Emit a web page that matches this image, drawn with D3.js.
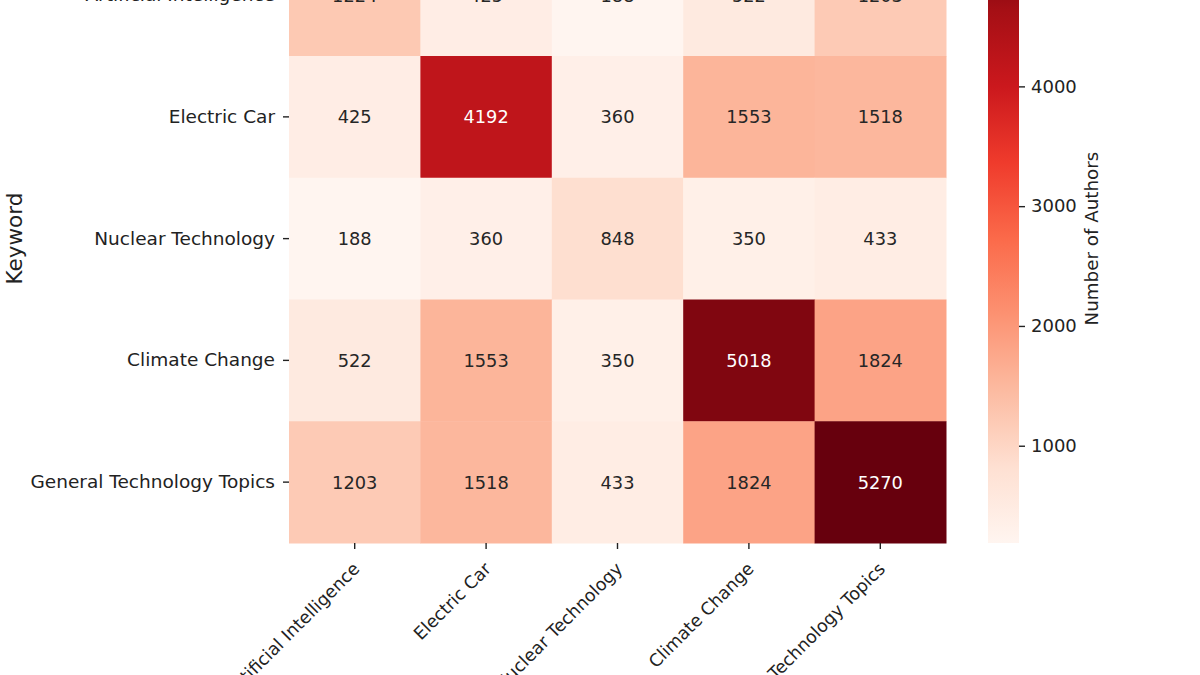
<!DOCTYPE html>
<html>
<head>
<meta charset="utf-8">
<script src="https://cdn.jsdelivr.net/npm/d3@7"></script>
<style>
  body { margin: 0; background: #fff; }
  svg { display: block; font-family: "DejaVu Sans", sans-serif; }
  .axis text { fill: #222; font-size: 18.5px; font-family: "DejaVu Sans", sans-serif; }
  .x.axis text { font-size: 17.5px; }
  .c.axis text { font-size: 18px; }
  .axis line { stroke: #222; stroke-width: 1.4; }
  .axis .domain { display: none; }
</style>
</head>
<body>
<div id="root"></div>
<script>
// keywords on both axes (the matrix is symmetric)
var keywords = ["Artificial Intelligence", "Electric Car", "Nuclear Technology", "Climate Change", "General Technology Topics"];

// number of authors, one row per keyword
var aiRow      = [1224, 425, 188, 522, 1203];
var carRow     = [425, 4192, 360, 1553, 1518];
var nuclearRow = [188, 360, 848, 350, 433];
var climateRow = [522, 1553, 350, 5018, 1824];
var generalRow = [1203, 1518, 433, 1824, 5270];
var authorRows = [aiRow, carRow, nuclearRow, climateRow, generalRow];

var colorbarTicks = [1000, 2000, 3000, 4000];

function luminance(c) {
  // relative luminance, used to pick dark or white annotation text
  var rgb = d3.rgb(c);
  var ch = [rgb.r, rgb.g, rgb.b].map(function (v) {
    v = v / 255;
    return v <= 0.03928 ? v / 12.92 : Math.pow((v + 0.055) / 1.055, 2.4);
  });
  return 0.2126 * ch[0] + 0.7152 * ch[1] + 0.0722 * ch[2];
}

function render() {
  var width = 1200, height = 675;

  var cells = [];
  authorRows.forEach(function (row, i) {
    row.forEach(function (v, j) {
      cells.push({ row: keywords[i], col: keywords[j], value: v });
    });
  });

  var vmin = d3.min(cells, function (d) { return d.value; });
  var vmax = d3.max(cells, function (d) { return d.value; });

  // matplotlib "Reds" = the 9 brewer colours, linearly spaced
  var stops = d3.schemeReds[9];
  var color = d3.scaleLinear()
    .domain(stops.map(function (s, i) { return vmin + i * (vmax - vmin) / (stops.length - 1); }))
    .range(stops)
    .interpolate(d3.interpolateRgb);

  var x = d3.scaleBand().domain(keywords).range([289, 946]);
  var y = d3.scaleBand().domain(keywords).range([-65.75, 543]);

  var svg = d3.select("#root").append("svg")
    .attr("width", width)
    .attr("height", height);

  // heatmap cells
  svg.selectAll("rect.cell")
    .data(cells)
    .enter().append("rect")
    .attr("class", "cell")
    .attr("x", function (d) { return x(d.col); })
    .attr("y", function (d) { return y(d.row); })
    .attr("width", x.bandwidth() + 0.5)
    .attr("height", y.bandwidth() + 0.5)
    .attr("fill", function (d) { return color(d.value); });

  // annotations
  svg.selectAll("text.annot")
    .data(cells)
    .enter().append("text")
    .attr("class", "annot")
    .attr("x", function (d) { return x(d.col) + x.bandwidth() / 2; })
    .attr("y", function (d) { return y(d.row) + y.bandwidth() / 2; })
    .attr("text-anchor", "middle")
    .attr("dy", "0.36em")
    .attr("font-size", 17.8)
    .attr("fill", function (d) { return luminance(color(d.value)) > 0.408 ? "#262626" : "#ffffff"; })
    .text(function (d) { return d.value; });

  // y axis
  svg.append("g")
    .attr("class", "y axis")
    .attr("transform", "translate(" + x.range()[0] + ",0)")
    .call(d3.axisLeft(y).tickSize(6).tickPadding(8));

  // x axis with rotated labels
  var xAxis = svg.append("g")
    .attr("class", "x axis")
    .attr("transform", "translate(0," + y.range()[1] + ")")
    .call(d3.axisBottom(x).tickSize(6).tickPadding(6));
  xAxis.selectAll("text")
    .attr("text-anchor", "end")
    .attr("dy", null)
    .attr("y", 0)
    .attr("transform", "translate(6,27) rotate(-45)");

  // y axis title
  svg.append("text")
    .attr("transform", "translate(22," + (y.range()[0] + y.range()[1]) / 2 + ") rotate(-90)")
    .attr("text-anchor", "middle")
    .attr("font-size", 21.5)
    .attr("fill", "#222")
    .text("Keyword");

  // colorbar
  var cbX = 988, cbW = 31;
  var cScale = d3.scaleLinear().domain([vmin, vmax]).range([y.range()[1], y.range()[0]]);

  var grad = svg.append("defs").append("linearGradient")
    .attr("id", "cbGrad")
    .attr("x1", 0).attr("y1", 1).attr("x2", 0).attr("y2", 0);
  grad.selectAll("stop")
    .data(stops)
    .enter().append("stop")
    .attr("offset", function (d, i) { return i / (stops.length - 1); })
    .attr("stop-color", function (d) { return d; });

  svg.append("rect")
    .attr("x", cbX)
    .attr("y", cScale(vmax))
    .attr("width", cbW)
    .attr("height", cScale(vmin) - cScale(vmax))
    .attr("fill", "url(#cbGrad)");

  svg.append("g")
    .attr("class", "c axis")
    .attr("transform", "translate(" + (cbX + cbW) + ",0)")
    .call(d3.axisRight(cScale).tickValues(colorbarTicks).tickFormat(d3.format("d")).tickSize(6).tickPadding(6));

  svg.append("text")
    .attr("transform", "translate(1098," + (cScale(vmin) + cScale(vmax)) / 2 + ") rotate(-90)")
    .attr("text-anchor", "middle")
    .attr("font-size", 18.3)
    .attr("fill", "#222")
    .text("Number of Authors");
}

render();
</script>
</body>
</html>
